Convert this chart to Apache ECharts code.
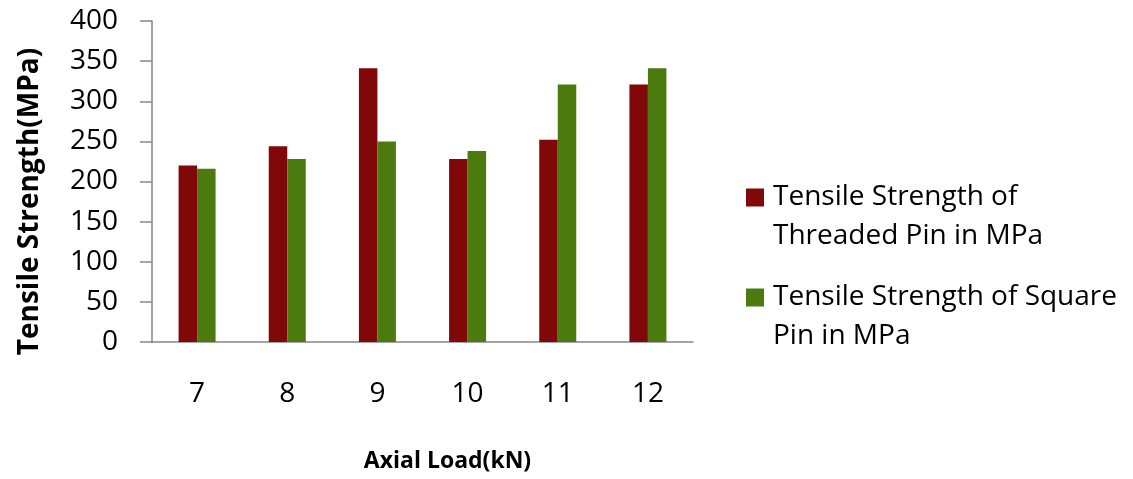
<!DOCTYPE html>
<html>
<head>
<meta charset="utf-8">
<title>Tensile Strength vs Axial Load</title>
<script src="https://cdn.jsdelivr.net/npm/echarts@6/dist/echarts.min.js"></script>
<style>
  html, body { margin: 0; padding: 0; background: #ffffff; }
  #chart { width: 1133px; height: 479px; }
</style>
</head>
<body>
<div id="chart"></div>
<script>
// Axial load categories (kN)
const axialLoads = ['7', '8', '9', '10', '11', '12'];
// Tensile strength values (MPa)
const threadedPin = [220, 244, 341, 228, 252, 321];
const squarePin = [216, 228, 250, 238, 321, 341];
// Series names shown in the legend
const threadedName = 'Tensile Strength of\nThreaded Pin in MPa';
const squareName = 'Tensile Strength of Square\nPin in MPa';

const FONT = '"Open Sans", "Liberation Sans", sans-serif';
const AXIS_GREY = '#868686';
const TEXT = '#000000';

const chart = echarts.init(document.getElementById('chart'), null, { renderer: 'canvas' });

// Legend text block gets an empty leading line so the swatch sits beside the first line
const legendBase = {
  left: 746,
  padding: 0,
  itemWidth: 18, itemHeight: 18,
  icon: 'rect',
  selectedMode: false,
  formatter: name => '\n' + name,
  textStyle: {
    fontFamily: FONT,
    fontSize: 28,
    color: TEXT,
    lineHeight: 39,
    padding: [0, 0, 0, 4]
  }
};

chart.setOption({
  animation: false,
  backgroundColor: '#ffffff',
  textStyle: { fontFamily: FONT },
  grid: { left: 152, right: 440, top: 21, bottom: 137, containLabel: false },
  legend: [
    Object.assign({}, legendBase, { data: [threadedName], top: 139 }),
    Object.assign({}, legendBase, { data: [squareName], top: 239 })
  ],
  xAxis: {
    type: 'category',
    data: axialLoads,
    name: 'Axial Load(kN)',
    nameLocation: 'middle',
    nameGap: 108,
    nameTextStyle: {
      fontFamily: FONT, fontSize: 23, fontWeight: 'bold', color: TEXT,
      padding: [0, 0, 0, 50]
    },
    axisLine: { lineStyle: { color: AXIS_GREY, width: 1.5 } },
    axisTick: { show: false },
    axisLabel: { margin: 38, fontFamily: FONT, fontSize: 28, color: TEXT }
  },
  yAxis: {
    type: 'value',
    min: 0, max: 400, interval: 50,
    name: 'Tensile Strength(MPa)',
    nameLocation: 'middle',
    nameGap: 108,
    nameRotate: 90,
    nameTextStyle: {
      fontFamily: FONT, fontSize: 28, fontWeight: 'bold', color: TEXT,
      padding: [0, 40, 0, 0]
    },
    axisLine: { show: true, lineStyle: { color: AXIS_GREY, width: 1.5 } },
    axisTick: { show: true, inside: false, length: 12, lineStyle: { color: AXIS_GREY, width: 1.5 } },
    splitLine: { show: false },
    axisLabel: { margin: 34, fontFamily: FONT, fontSize: 28, color: TEXT }
  },
  series: [
    {
      name: threadedName,
      type: 'bar',
      data: threadedPin,
      barWidth: 18.5,
      barGap: '0%',
      itemStyle: { color: '#800808' }
    },
    {
      name: squareName,
      type: 'bar',
      data: squarePin,
      barWidth: 18.5,
      barGap: '0%',
      itemStyle: { color: '#4B7A0E' }
    }
  ]
});
</script>
</body>
</html>
